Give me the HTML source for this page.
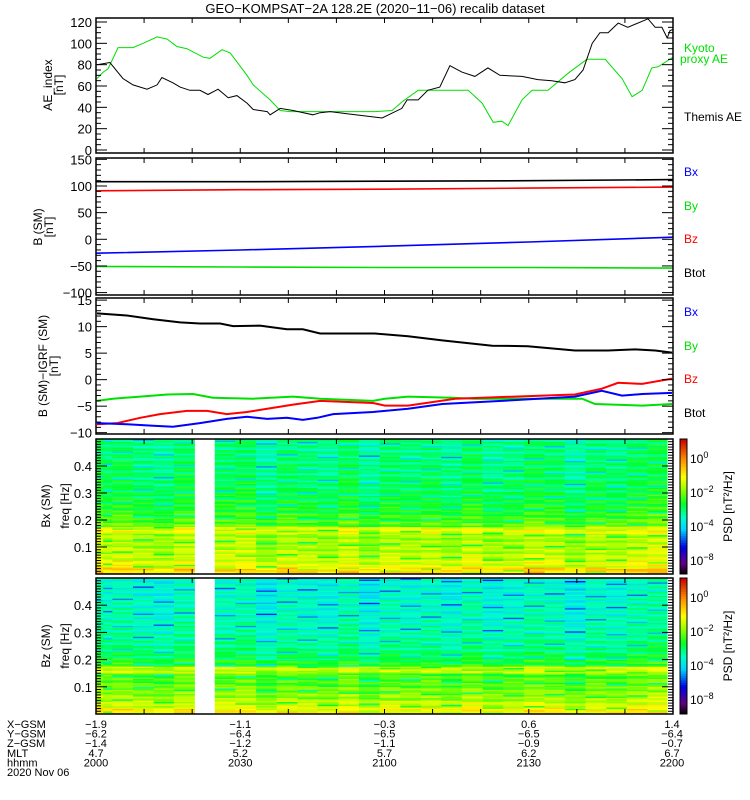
<!DOCTYPE html>
<html><head><meta charset="utf-8"><style>
html,body{margin:0;padding:0;background:#fff;}
svg{display:block;font-family:"Liberation Sans",sans-serif;}
</style></head><body>
<svg id="chart" width="750" height="800" viewBox="0 0 750 800" xmlns="http://www.w3.org/2000/svg"></svg>
<script>
// ---------- DATA ----------
const aeThemisT=[0.2,2.9,5.6,7.7,10.6,12.7,13.7,16,17.5,19.5,21.6,23.3,25.4,27.5,29.3,31.4,32.7,35.6,36.2,38.3,41,45.1,46.6,48.7,52.2,57.6,59.5,63.6,64.7,67,69,71.5,73.6,76.1,78.8,81.5,84,88.6,91.9,94.8,97.5,99.6,101.3,103.2,104.8,106.5,108.6,110.6,114.8,116.3,117.7,118.8,119.4,120];
const aeThemisV=[80,82,67,61,57,61,68,63,59,56,56,52,57,49,51,44,38,36,33,39,37,33,35,36,34,31,30,39,47,47,56,59,79,73,69,77,70,69,66,65,63,66,75,100,110,110,119,115,123,115,115,105,112,113];
const aeKyotoT=[0.2,1.5,2.5,4.6,7.7,9.8,12.7,14.8,16.8,18.9,22.3,23.7,26.2,27.9,31.4,32.7,36.2,38.3,40.3,58,61.6,63.6,67,77.4,80.3,82.6,84.4,85.7,88.6,90.7,94,98.2,102.1,105.9,109.4,111.5,113.6,115.6,116.9,120];
const aeKyotoV=[67,73,76,96,96,100,106,104,97,95,87,86,94,91,70,61,47,37,36,36,37,45,56,56,44,26,27,23,47,56,56,72,85,85,67,50,56,77,78,87];
const bT=[0,30,60,90,120];
const bTot=[108,108,109,110,112];
const bXs=[-26,-20,-13,-5,4];
const bYs=[-51,-52,-53,-53,-54];
const bZs=[91,93,94,96,98];
const dT_btot=[0.2,6.4,11.9,17.5,21.6,25.8,28.5,34.1,39.7,43,46.6,58,64.9,72,82.4,89.8,99.6,106.5,112.1,116.3,119.8];
const dV_btot=[12.5,12.1,11.4,10.8,10.6,10.6,10.1,10.2,9.5,9.5,8.7,8.7,8.2,7.4,6.4,6.3,5.5,5.5,5.7,5.5,5.1];
const dT_by=[0.2,3.5,9.2,14.8,20.2,24.3,32.7,41,46.6,57.6,60.1,64.9,74,78.8,84.4,101.1,103.8,113.6,119.8];
const dV_by=[-4.0,-3.6,-3.2,-2.8,-2.7,-3.4,-3.6,-3.2,-3.6,-4.0,-3.6,-3.2,-3.4,-3.6,-3.6,-3.6,-4.6,-4.9,-4.6];
const dT_bz=[0.2,4.4,9.2,13.3,18.9,23.1,27.2,31.4,35.6,41,46.6,57.6,60.1,64.9,74.7,87.1,99.6,105.2,108.6,113.6,119.8];
const dV_bz=[-8.4,-8.2,-7.2,-6.5,-5.9,-5.9,-6.5,-6.1,-5.5,-4.7,-4.0,-4.4,-4.9,-4.9,-3.6,-3.2,-2.8,-1.7,-0.6,-0.8,0.2];
const dT_bx=[0.2,6.4,11.9,16,21.6,27.2,31.4,35.6,39.7,43,46,49.3,57.6,64.9,72,84.4,99.6,105.2,109.4,113.6,119.8];
const dV_bx=[-8.2,-8.4,-8.7,-8.9,-8.2,-7.4,-7.0,-7.4,-7.2,-7.6,-7.2,-6.5,-6.1,-5.5,-4.6,-4.0,-3.2,-2.1,-3.0,-2.7,-2.5];
const specColT=[0,1.5,3.4,7.7,12,16.2,20.5,24.7,29,33.3,37.6,41.9,46.1,50.4,54.7,59,63.3,67.6,71.8,76.1,80.4,84.7,89,93.3,97.5,101.8,106.1,110.4,114.7,118.8];
const specGapCol=[6];
const colOffset=[0.3,0.1,0.2,0,-0.1,0.2,0,0.1,0.2,-0.2,0.1,0,-0.1,0.2,-0.2,0.1,0,0.1,-0.1,0.2,-0.1,0,0.2,0.1,-0.2,0.1,0,0.2];
const bxProfile=[-0.6,-1.1,-1.3,-1.4,-1.5,-1.5,-1.1,-2.0,-2.2,-2.4,-2.5,-2.6,-2.7,-2.7,-2.8,-2.8,-2.8,-2.9,-2.9,-2.9];
const bzProfile=[-0.9,-1.3,-1.6,-1.8,-2.0,-2.1,-1.3,-2.4,-2.7,-2.9,-3.0,-3.1,-3.2,-3.2,-3.3,-3.3,-3.3,-3.4,-3.4,-3.4];
const rowPattern=[0.3,-0.5,0.8,-0.2,0.1,-0.9,0.4,0.6,-0.3,0,-0.7,0.9,-0.1,0.2,-0.6,0.5,-0.4,0.7,-0.8,0.3,0.1,-0.2,0.6,-2.2,0.4,-0.5,0.2,0.8,-0.3,-0.6,0.5,-1.8,0.2,0.4,-0.1,0.6,-0.4];
const aeTicks=[0,20,40,60,80,100,120];
const bTicks=[-100,-50,0,50,100,150];
const dTicks=[-10,-5,0,5,10,15];
const fTicks=[0.1,0.2,0.3,0.4];
const timeTicks=[0,30,60,90,120];
const xgsm=["-1.9","-1.1","-0.3","0.6","1.4"];
const ygsm=["-6.2","-6.4","-6.5","-6.5","-6.4"];
const zgsm=["-1.4","-1.2","-1.1","-0.9","-0.7"];
const mlt=["4.7","5.2","5.7","6.2","6.7"];
const hhmm=["2000","2030","2100","2130","2200"];

// ---------- LAYOUT ----------
const svg=document.getElementById('chart');
const NS='http://www.w3.org/2000/svg';
const X0=96,X1=673;
function xs(t){return X0+t/120*(X1-X0);}
const P1={top:18,bot:153,vmin:-2.8,vmax:123.75};
const P2={top:158,bot:295,vmin:-104.5,vmax:152.5};
const P3={top:298,bot:434,vmin:-10.25,vmax:15.4};
const P4={top:439,bot:574,vmin:0,vmax:0.5};
const P5={top:578,bot:714,vmin:0,vmax:0.5};
function ys(p,v){return p.bot-(v-p.vmin)/(p.vmax-p.vmin)*(p.bot-p.top);}
function mk(tag,attrs,parent){const e=document.createElementNS(NS,tag);for(const k in attrs)e.setAttribute(k,attrs[k]);(parent||svg).appendChild(e);return e;}
function txt(x,y,s,opts,parent){const e=mk('text',Object.assign({x:x,y:y,'font-size':12,fill:'#000'},opts||{}),parent);e.textContent=s;return e;}

let t=txt(375,13,'GEO\u2212KOMPSAT\u22122A 128.2E (2020\u221211\u221206) recalib dataset',{'text-anchor':'middle','font-size':13});



function colormap(v){
  const st=[[0,0,0,0],[0.08,100,0,130],[0.2,0,0,230],[0.33,0,210,255],[0.42,0,255,200],[0.52,0,255,40],[0.62,140,255,0],[0.72,255,255,0],[0.85,255,140,0],[1,200,0,0]];
  v=Math.max(0,Math.min(1,v));
  for(let i=1;i<st.length;i++){if(v<=st[i][0]){const a=st[i-1],b=st[i],f=(v-a[0])/(b[0]-a[0]);return 'rgb('+Math.round(a[1]+f*(b[1]-a[1]))+','+Math.round(a[2]+f*(b[2]-a[2]))+','+Math.round(a[3]+f*(b[3]-a[3]))+')';}}
  return 'rgb(200,0,0)';
}
const LMIN=-6.5,LMAX=1.4;

function spectro(p,profile,name,seed){
  const g=mk('g',{});
  
  
  const NR=100,rh=(p.bot-p.top)/NR;
  for(let c=0;c<specColT.length-1;c++){
    if(specGapCol.indexOf(c)>=0)continue;
    const xa=xs(specColT[c]),xb=xs(specColT[c+1]);
    for(let r=0;r<NR;r++){
      const f=(r+0.5)/NR*0.5;
      const band=Math.min(profile.length-1,Math.floor(f/0.025));
      const lv=profile[band]+colOffset[c%colOffset.length]+rowPattern[(r*7+c*11+seed)%rowPattern.length]*0.55;
      const rc=mk('rect',{x:xa.toFixed(2),y:(p.bot-(r+1)*rh).toFixed(2),width:(xb-xa+0.3).toFixed(2),height:(rh+0.3).toFixed(2),fill:colormap((lv-LMIN)/(LMAX-LMIN))},g);
      
      
    }
  }
}
spectro(P4,bxProfile,'bx-spectrogram',0);
spectro(P5,bzProfile,'bz-spectrogram',5);

function line(p,T,V,color,name,w){
  let d='';
  for(let i=0;i<T.length;i++)d+=(i?'L':'M')+xs(T[i]).toFixed(1)+','+ys(p,V[i]).toFixed(1);
  const e=mk('path',{d:d,fill:'none',stroke:color,'stroke-width':w||1});
  
  
}
line(P1,aeKyotoT,aeKyotoV,'#00e000','kyoto-ae-line',1);
line(P1,aeThemisT,aeThemisV,'#000','themis-ae-line',1);
line(P2,bT,bTot,'#000','btot-line',1.6);
line(P2,bT,bZs,'#f00','bz-line',1.6);
line(P2,bT,bXs,'#00f','bx-line',1.6);
line(P2,bT,bYs,'#00e000','by-line',1.6);
line(P3,dT_btot,dV_btot,'#000','dbtot-line',2);
line(P3,dT_by,dV_by,'#00e000','dby-line',2);
line(P3,dT_bz,dV_bz,'#f00','dbz-line',2);
line(P3,dT_bx,dV_bx,'#00f','dbx-line',2);

function frame(p,name,ticks,minorStep,fmt){
  const g=mk('g',{});
  
  
  mk('rect',{x:X0,y:p.top,width:X1-X0,height:p.bot-p.top,fill:'none',stroke:'#000','stroke-width':1.5},g);
  for(let m=0;m<=120;m+=10){const x=xs(m);mk('line',{x1:x,x2:x,y1:p.top,y2:p.top+5,stroke:'#000'},g);mk('line',{x1:x,x2:x,y1:p.bot,y2:p.bot-5,stroke:'#000'},g);}
  for(let v=Math.ceil(p.vmin/minorStep)*minorStep;v<=p.vmax+1e-9;v+=minorStep){
    const y=ys(p,v);const maj=ticks.some(q=>Math.abs(q-v)<1e-6);const L=maj?11:5;
    mk('line',{x1:X0,x2:X0+L,y1:y,y2:y,stroke:'#000'},g);mk('line',{x1:X1,x2:X1-L,y1:y,y2:y,stroke:'#000'},g);
  }
  ticks.forEach(v=>{const e=txt(X0-4,ys(p,v)+5,fmt(v),{'text-anchor':'end','font-size':13},g);
    
    });
}
const neg=v=>String(v).replace('-','\u2212');
frame(P1,'ae-panel',aeTicks,5,neg);
frame(P2,'b-sm-panel',bTicks,10,neg);
frame(P3,'b-igrf-panel',dTicks,1,neg);
frame(P4,'bx-spec-panel',fTicks,0.01,v=>v.toFixed(1));
frame(P5,'bz-spec-panel',fTicks,0.01,v=>v.toFixed(1));

function ylab(x,y,s,name){const e=txt(0,0,s,{'text-anchor':'middle','font-size':12,transform:'translate('+x+','+y+') rotate(-90)'});
  
  }
ylab(52,85,'AE_index','ae-y-title');ylab(63,85,'[nT]','ae-y-unit');
ylab(42,227,'B (SM)','b-y-title');ylab(53,227,'[nT]','b-y-unit');
ylab(47,366,'B (SM)\u2212IGRF (SM)','db-y-title');ylab(58,366,'[nT]','db-y-unit');
ylab(50,506,'Bx (SM)','bx-spec-title');ylab(69,506,'freq [Hz]','bx-freq-title');
ylab(50,646,'Bz (SM)','bz-spec-title');ylab(69,646,'freq [Hz]','bz-freq-title');

function leg(x,y,s,c,name){const e=txt(x,y,s,{fill:c,'font-size':12});
  
  }
leg(684,52,'Kyoto','#00e000','legend-kyoto');leg(680,63,'proxy AE','#00e000','legend-kyoto-2');
leg(684,121,'Themis AE','#000','legend-themis');
leg(684,176,'Bx','#00f','legend-bx');leg(684,210,'By','#00e000','legend-by');leg(684,243,'Bz','#f00','legend-bz');leg(684,277,'Btot','#000','legend-btot');
leg(684,316,'Bx','#00f','legend-bx-2');leg(684,350,'By','#00e000','legend-by-2');leg(684,383,'Bz','#f00','legend-bz-2');leg(684,417,'Btot','#000','legend-btot-2');

function cbar(p,name){
  const g=mk('g',{});
  
  
  const n=60,h=(p.bot-p.top)/n;
  for(let i=0;i<n;i++)mk('rect',{x:680,y:p.bot-(i+1)*h,width:7,height:h+0.4,fill:colormap((i+0.5)/n)},g);
  mk('rect',{x:680,y:p.top,width:7,height:p.bot-p.top,fill:'none',stroke:'#000'},g);
  const labs=[['0',p.top+24],['\u22122',p.top+58],['\u22124',p.top+92],['\u22128',p.top+126]];
  labs.forEach(l=>{const e=txt(690,l[1],'10',{'font-size':12},g);const s=mk('tspan',{dy:-5,'font-size':9},e);s.textContent=l[0];
    
    });
  const e=txt(0,0,'PSD [nT\u00b2/Hz]',{'text-anchor':'middle','font-size':12,transform:'translate(732,'+((p.top+p.bot)/2)+') rotate(-90)'},g);
  
  
}
cbar(P4,'bx-colorbar');cbar(P5,'bz-colorbar');

const rowsLab=['X\u2212GSM','Y\u2212GSM','Z\u2212GSM','MLT','hhmm'];
const rowsVal=[xgsm,ygsm,zgsm,mlt,hhmm];
for(let r=0;r<5;r++){
  const yy=728+r*9.6;
  const e=txt(7,yy,rowsLab[r],{'font-size':11});
  
  
  timeTicks.forEach((tm,i)=>{const q=txt(xs(tm)+(i==4?-1:0),yy,neg(rowsVal[r][i]),{'font-size':11,'text-anchor':'middle'});
    
    });
}
const dl=txt(7,776,'2020 Nov 06',{'font-size':11});


</script>
</body></html>
